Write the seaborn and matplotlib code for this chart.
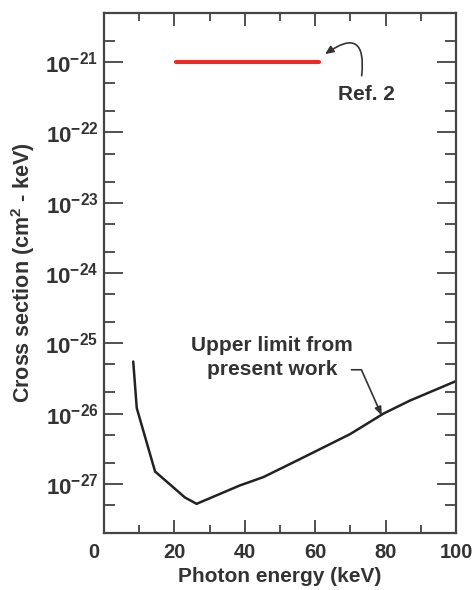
"""
Cross section upper limit vs photon energy, with the Ref. 2 value.
"""

import matplotlib
matplotlib.use("Agg")
import matplotlib.pyplot as plt
import matplotlib.transforms as mtransforms
from matplotlib.ticker import FixedLocator, LogLocator, NullFormatter
import pandas as pd
import seaborn as sns

# upper limit from present work (keV, cm^2 - keV)
energia = [8.3, 9.3, 14.5, 23.0, 26.3, 38.6, 45.3, 54.7, 69.9, 79.4, 86.9, 100.0]
limite = [5.5e-26, 1.2e-26, 1.5e-27, 6.4e-28, 5.2e-28, 9.5e-28, 1.25e-27,
          2.13e-27, 5.1e-27, 1.0e-26, 1.53e-26, 2.9e-26]

# Ref. 2
energia_ref = [20.5, 61.0]
valor_ref = [1e-21, 1e-21]

xticks = [0, 20, 40, 60, 80, 100]
xticks_menor = [10, 30, 50, 70, 90]
yticks = [1e-21, 1e-22, 1e-23, 1e-24, 1e-25, 1e-26, 1e-27]
yticklabels = [r"$10^{-21}$", r"$10^{-22}$", r"$10^{-23}$", r"$10^{-24}$",
               r"$10^{-25}$", r"$10^{-26}$", r"$10^{-27}$"]

GRIS = "#333333"

sns.set_style("ticks")
plt.rcParams["font.family"] = ["Liberation Sans", "DejaVu Sans"]
plt.rcParams["font.weight"] = "bold"
plt.rcParams["mathtext.fontset"] = "custom"
plt.rcParams["mathtext.rm"] = "Liberation Sans:bold"
plt.rcParams["mathtext.bf"] = "Liberation Sans:bold"
plt.rcParams["mathtext.it"] = "Liberation Sans:bold:italic"
plt.rcParams["mathtext.default"] = "rm"
plt.rcParams["text.color"] = GRIS

fig = plt.figure(figsize=(4.73, 5.90), dpi=100)
ax = fig.add_axes([0.2199, 0.0966, 0.7442, 0.8814])

df = pd.DataFrame({"E": energia, "S": limite})
df_ref = pd.DataFrame({"E": energia_ref, "S": valor_ref})
sns.lineplot(data=df, x="E", y="S", ax=ax, color="#222222", lw=1.8, sort=False)
sns.lineplot(data=df_ref, x="E", y="S", ax=ax, color="#e0302a", lw=3.0, sort=False)

ax.set_yscale("log")
ax.set_xlim(0, 100)
ax.set_ylim(2e-28, 5e-21)

ax.set_xticks(xticks)
ax.set_xticklabels([str(v) for v in xticks])
ax.xaxis.set_minor_locator(FixedLocator(xticks_menor))
ax.set_yticks(yticks)
ax.set_yticklabels(yticklabels)
ax.yaxis.set_minor_locator(LogLocator(base=10, subs=(2.0, 5.0)))
ax.yaxis.set_minor_formatter(NullFormatter())

ax.tick_params(axis="x", which="major", direction="in", length=9.4, width=1.2,
               top=True, labelsize=14.5, pad=7.5, colors=GRIS)
ax.tick_params(axis="x", which="minor", direction="in", length=5.8, width=1.2,
               top=True, colors=GRIS)
ax.tick_params(axis="y", which="major", direction="in", length=13.7, width=1.2,
               right=True, labelsize=16, pad=4, colors=GRIS)
ax.tick_params(axis="y", which="minor", direction="in", length=8, width=1.2,
               right=True, colors=GRIS)

# the "0" label sits a bit to the left of the axis corner
desplaza = mtransforms.ScaledTranslation(-10 / 100, 0, fig.dpi_scale_trans)
etiqueta0 = ax.get_xticklabels()[0]
etiqueta0.set_transform(etiqueta0.get_transform() + desplaza)

for s in ax.spines.values():
    s.set_color("#444444")
    s.set_linewidth(1.6)

ax.set_xlabel("Photon energy (keV)", fontsize=15, fontweight="bold",
              color=GRIS, labelpad=3)
ax.set_ylabel(r"Cross section (cm$^{2}$ - keV)", fontsize=15.5,
              fontweight="bold", color=GRIS, labelpad=6)

ax.text(74.6, 3.5e-22, "Ref. 2", fontsize=15, fontweight="bold",
        ha="center", va="center", color=GRIS)
ax.annotate("", xy=(62.8, 1.3e-21), xytext=(73.2, 6.4e-22),
            arrowprops=dict(arrowstyle="-|>,head_length=0.5,head_width=0.22",
                            connectionstyle="arc3,rad=1.1", color="#333333",
                            lw=1.2, shrinkA=0, shrinkB=0))

ax.text(47.7, 6.3e-26, "Upper limit from\npresent work", fontsize=15,
        fontweight="bold", ha="center", va="center", color=GRIS,
        linespacing=1.3)
ax.annotate("", xy=(78.9, 9.4e-27), xytext=(70.3, 4.2e-26),
            arrowprops=dict(arrowstyle="-|>,head_length=0.5,head_width=0.2",
                            connectionstyle="angle,angleA=0,angleB=-66,rad=0",
                            color="#333333", lw=1.2, shrinkA=0, shrinkB=0))

plt.savefig("out.png", dpi=100)
